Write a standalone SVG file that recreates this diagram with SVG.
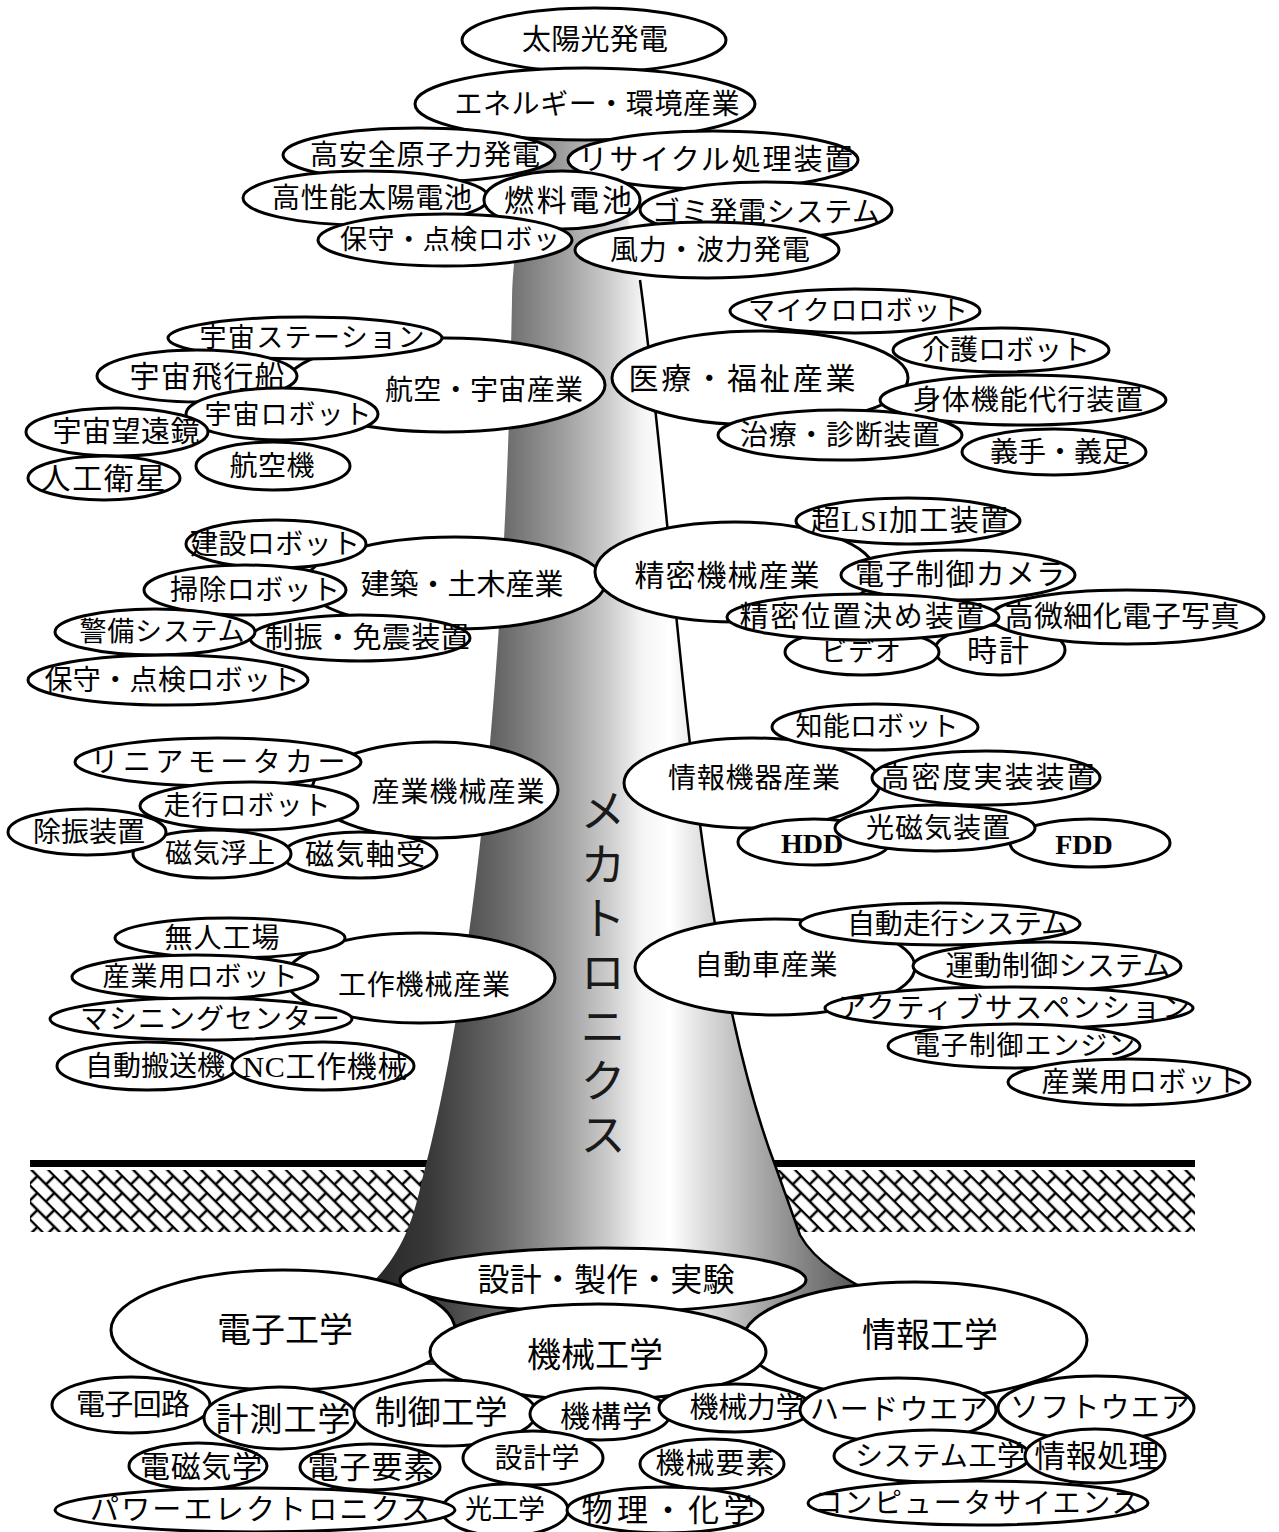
<svg xmlns="http://www.w3.org/2000/svg" width="1279" height="1532" viewBox="0 0 1279 1532">
<defs>
<style>
.n ellipse{fill:#fff;stroke:#000;stroke-width:3}
.n text{font-family:"Liberation Serif","Noto Sans CJK JP",serif;font-size:28px;text-anchor:middle;dominant-baseline:central;fill:#000}
.big text{font-size:34px}
.trunk-label{font-family:"Noto Sans CJK JP",sans-serif;font-size:46px;fill:#1a1a1a;writing-mode:vertical-rl;letter-spacing:8px}
</style>
<linearGradient id="trunkShade" gradientUnits="userSpaceOnUse" x1="340" y1="0" x2="890" y2="0">
<stop offset="0" stop-color="#1c1c1c"/>
<stop offset="0.16" stop-color="#383838"/>
<stop offset="0.29" stop-color="#676767"/>
<stop offset="0.4" stop-color="#9b9b9b"/>
<stop offset="0.49" stop-color="#cdcdcd"/>
<stop offset="0.55" stop-color="#f5f5f5"/>
<stop offset="0.6" stop-color="#ffffff"/>
<stop offset="0.66" stop-color="#dedede"/>
<stop offset="0.77" stop-color="#a6a6a6"/>
<stop offset="0.9" stop-color="#6a6a6a"/>
<stop offset="1" stop-color="#404040"/>
</linearGradient>
<pattern id="brickHatch" width="24" height="24" patternUnits="userSpaceOnUse" patternTransform="rotate(45)">
<path d="M0 1H24M0 13H24M6 1V13M18 13V25" stroke="#000" stroke-width="2.5" fill="none"/>
</pattern>
</defs>
<rect width="1279" height="1532" fill="#fff"/>

<!-- ground: surface line and hatched soil band -->
<g id="ground">
<rect x="30" y="1170" width="420" height="62" fill="url(#brickHatch)"/>
<rect x="750" y="1170" width="445" height="62" fill="url(#brickHatch)"/>
<rect x="30" y="1160" width="1165" height="7" fill="#000"/>
</g>

<!-- trunk -->
<g id="trunk">
<path d="M535,130 C522,200 512,260 512,300 C505,700 470,1000 422,1180 C410,1235 395,1270 340,1310 L340,1365 L895,1365 L895,1305 C845,1280 815,1262 800,1235 L775,1165 C690,940 678,560 640,280 C630,220 615,160 605,130 Z" fill="url(#trunkShade)"/>
<path d="M640,280 C678,560 690,940 775,1165 L800,1235 C815,1262 845,1280 895,1305" fill="none" stroke="#000" stroke-width="2.5"/>
<text class="trunk-label" x="603" y="787">メカトロニクス</text>
</g>

<!-- energy / environment -->
<g id="solar-power" class="n"><ellipse cx="594" cy="40" rx="132" ry="32"/><text x="595" y="40" style="font-size:29px" textLength="146">太陽光発電</text></g>
<g id="energy-industry" class="n"><ellipse cx="585" cy="104" rx="170" ry="36"/><text x="597" y="104" textLength="285">エネルギー・環境産業</text></g>
<g id="nuclear-power" class="n"><ellipse cx="419" cy="155" rx="136" ry="27"/><text x="425" y="155" textLength="230">高安全原子力発電</text></g>
<g id="recycling" class="n"><ellipse cx="713" cy="160" rx="145" ry="29"/><text x="716" y="160" style="font-size:29px" textLength="275">リサイクル処理装置</text></g>
<g id="solar-cell" class="n"><ellipse cx="366" cy="198" rx="123" ry="27"/><text x="372" y="198" textLength="200">高性能太陽電池</text></g>
<g id="fuel-cell" class="n"><ellipse cx="562" cy="200" rx="78" ry="29"/><text x="568" y="200" style="font-size:30px" textLength="128">燃料電池</text></g>
<g id="waste-power" class="n"><ellipse cx="766" cy="210" rx="126" ry="28"/><text x="766" y="212" textLength="228">ゴミ発電システム</text></g>
<g id="inspection-robot-1" class="n"><ellipse cx="445" cy="240" rx="127" ry="26"/><text x="450" y="240" style="font-size:27px" textLength="220">保守・点検ロボッ</text></g>
<g id="wind-wave" class="n"><ellipse cx="707" cy="250" rx="132" ry="28"/><text x="710" y="250" textLength="200">風力・波力発電</text></g>

<!-- aerospace -->
<g id="aerospace" class="n"><ellipse cx="445" cy="385" rx="160" ry="47"/><text x="484" y="390" textLength="198">航空・宇宙産業</text></g>
<g id="space-station" class="n"><ellipse cx="305" cy="338" rx="137" ry="21"/><text x="312" y="338" style="font-size:27px" textLength="225">宇宙ステーション</text></g>
<g id="spaceship" class="n"><ellipse cx="197" cy="376" rx="100" ry="26"/><text x="207" y="376" style="font-size:30px" textLength="155">宇宙飛行船</text></g>
<g id="space-robot" class="n"><ellipse cx="282" cy="414" rx="96" ry="26"/><text x="288" y="415" style="font-size:27px" textLength="167">宇宙ロボット</text></g>
<g id="space-telescope" class="n"><ellipse cx="117" cy="432" rx="91" ry="24"/><text x="126" y="432" style="font-size:29px" textLength="147">宇宙望遠鏡</text></g>
<g id="aircraft" class="n"><ellipse cx="273" cy="466" rx="77" ry="24"/><text x="272" y="466" textLength="85">航空機</text></g>
<g id="satellite" class="n"><ellipse cx="104" cy="478" rx="76" ry="22"/><text x="103" y="478" style="font-size:30px" textLength="125">人工衛星</text></g>

<!-- medical / welfare -->
<g id="medical" class="n"><ellipse cx="760" cy="378" rx="148" ry="47"/><text x="742" y="378" style="font-size:30px" textLength="227">医療・福祉産業</text></g>
<g id="micro-robot" class="n"><ellipse cx="855" cy="311" rx="125" ry="22"/><text x="858" y="311" style="font-size:27px" textLength="220">マイクロロボット</text></g>
<g id="care-robot" class="n"><ellipse cx="1001" cy="350" rx="108" ry="22"/><text x="1006" y="350" textLength="168">介護ロボット</text></g>
<g id="body-assist" class="n"><ellipse cx="1023" cy="400" rx="143" ry="25"/><text x="1028" y="400" textLength="230">身体機能代行装置</text></g>
<g id="therapy" class="n"><ellipse cx="840" cy="435" rx="122" ry="25"/><text x="840" y="435" textLength="200">治療・診断装置</text></g>
<g id="prosthesis" class="n"><ellipse cx="1054" cy="452" rx="92" ry="23"/><text x="1060" y="452" textLength="140">義手・義足</text></g>

<!-- construction -->
<g id="construction" class="n"><ellipse cx="455" cy="583" rx="150" ry="46"/><text x="462" y="585" style="font-size:29px" textLength="203">建築・土木産業</text></g>
<g id="building-robot" class="n"><ellipse cx="276" cy="544" rx="90" ry="24"/><text x="275" y="544" textLength="170">建設ロボット</text></g>
<g id="cleaning-robot" class="n"><ellipse cx="245" cy="590" rx="101" ry="25"/><text x="255" y="590" textLength="170">掃除ロボット</text></g>
<g id="seismic" class="n"><ellipse cx="360" cy="638" rx="110" ry="23"/><text x="367" y="638" style="font-size:29px" textLength="205">制振・免震装置</text></g>
<g id="security" class="n"><ellipse cx="155" cy="632" rx="100" ry="23"/><text x="162" y="632" style="font-size:27px" textLength="165">警備システム</text></g>
<g id="inspection-robot-2" class="n"><ellipse cx="168" cy="680" rx="140" ry="25"/><text x="172" y="680" textLength="255">保守・点検ロボット</text></g>

<!-- precision machinery -->
<g id="precision" class="n"><ellipse cx="735" cy="572" rx="140" ry="50"/><text x="727" y="575" style="font-size:30px" textLength="185">精密機械産業</text></g>
<g id="vlsi" class="n"><ellipse cx="908" cy="521" rx="112" ry="23"/><text x="910" y="521" style="font-size:29px" textLength="198">超LSI加工装置</text></g>
<g id="camera" class="n"><ellipse cx="958" cy="575" rx="117" ry="25"/><text x="960" y="575" style="font-size:29px" textLength="210">電子制御カメラ</text></g>
<g id="clock" class="n"><ellipse cx="1000" cy="650" rx="65" ry="25"/><text x="998" y="650" style="font-size:30px" textLength="62">時計</text></g>
<g id="video" class="n"><ellipse cx="862" cy="652" rx="77" ry="23"/><text x="861" y="652" style="font-size:26px" textLength="80">ビデオ</text></g>
<g id="photo" class="n"><ellipse cx="1127" cy="617" rx="137" ry="27"/><text x="1122" y="617" style="font-size:29px" textLength="235">高微細化電子写真</text></g>
<g id="positioning" class="n"><ellipse cx="863" cy="617" rx="136" ry="23"/><text x="862" y="617" style="font-size:29px" textLength="245">精密位置決め装置</text></g>

<!-- industrial machinery -->
<g id="industrial" class="n"><ellipse cx="435" cy="790" rx="123" ry="48"/><text x="458" y="792" textLength="173">産業機械産業</text></g>
<g id="linear-motor" class="n"><ellipse cx="218" cy="762" rx="143" ry="24"/><text x="218" y="762" textLength="255">リニアモータカー</text></g>
<g id="walking-robot" class="n"><ellipse cx="249" cy="806" rx="109" ry="24"/><text x="247" y="806" style="font-size:27px" textLength="167">走行ロボット</text></g>
<g id="magnetic-bearing" class="n"><ellipse cx="360" cy="855" rx="77" ry="23"/><text x="365" y="855" style="font-size:29px" textLength="120">磁気軸受</text></g>
<g id="maglev" class="n"><ellipse cx="212" cy="854" rx="79" ry="24"/><text x="220" y="854" style="font-size:27px" textLength="110">磁気浮上</text></g>
<g id="vibration-isolator" class="n"><ellipse cx="87" cy="832" rx="79" ry="23"/><text x="89" y="832" textLength="112">除振装置</text></g>

<!-- information equipment -->
<g id="info-equipment" class="n"><ellipse cx="752" cy="783" rx="128" ry="45"/><text x="754" y="778" textLength="172">情報機器産業</text></g>
<g id="smart-robot" class="n"><ellipse cx="875" cy="727" rx="103" ry="23"/><text x="877" y="727" style="font-size:27px" textLength="163">知能ロボット</text></g>
<g id="mounting" class="n"><ellipse cx="986" cy="778" rx="114" ry="27"/><text x="988" y="778" style="font-size:29px" textLength="215">高密度実装装置</text></g>
<g id="hdd" class="n"><ellipse cx="814" cy="842" rx="76" ry="23"/><text x="812" y="843" style="font-weight:700">HDD</text></g>
<g id="fdd" class="n"><ellipse cx="1090" cy="843" rx="80" ry="24"/><text x="1084" y="844" style="font-weight:700">FDD</text></g>
<g id="magneto-optical" class="n"><ellipse cx="935" cy="828" rx="100" ry="23"/><text x="938" y="828" textLength="144">光磁気装置</text></g>

<!-- machine tools -->
<g id="machine-tools" class="n"><ellipse cx="420" cy="978" rx="135" ry="45"/><text x="424" y="985" textLength="172">工作機械産業</text></g>
<g id="unmanned-factory" class="n"><ellipse cx="230" cy="938" rx="115" ry="20"/><text x="222" y="938" textLength="115">無人工場</text></g>
<g id="industrial-robot-1" class="n"><ellipse cx="195" cy="977" rx="123" ry="22"/><text x="200" y="977" style="font-size:27px" textLength="195">産業用ロボット</text></g>
<g id="machining-center" class="n"><ellipse cx="201" cy="1019" rx="151" ry="21"/><text x="210" y="1019" textLength="260">マシニングセンター</text></g>
<g id="agv" class="n"><ellipse cx="147" cy="1066" rx="90" ry="24"/><text x="155" y="1066" textLength="140">自動搬送機</text></g>
<g id="nc-machine" class="n"><ellipse cx="323" cy="1066" rx="91" ry="24"/><text x="325" y="1066" style="font-size:30px" textLength="165">NC工作機械</text></g>

<!-- automobile -->
<g id="automobile" class="n"><ellipse cx="775" cy="967" rx="140" ry="48"/><text x="766" y="965" textLength="143">自動車産業</text></g>
<g id="auto-driving" class="n"><ellipse cx="940" cy="924" rx="140" ry="21"/><text x="958" y="924" textLength="222">自動走行システム</text></g>
<g id="motion-control" class="n"><ellipse cx="1047" cy="966" rx="134" ry="24"/><text x="1058" y="966" textLength="225">運動制御システム</text></g>
<g id="active-suspension" class="n"><ellipse cx="1009" cy="1008" rx="184" ry="21"/><text x="1014" y="1008" textLength="352">アクティブサスペンション</text></g>
<g id="engine-control" class="n"><ellipse cx="1014" cy="1046" rx="126" ry="22"/><text x="1024" y="1046" style="font-size:27px" textLength="222">電子制御エンジン</text></g>
<g id="industrial-robot-2" class="n"><ellipse cx="1129" cy="1082" rx="121" ry="23"/><text x="1143" y="1082" textLength="203">産業用ロボット</text></g>

<!-- engineering roots -->
<g id="electronics" class="n big"><ellipse cx="283" cy="1330" rx="172" ry="60"/><text x="285" y="1330">電子工学</text></g>
<g id="design-build-test" class="n"><ellipse cx="603" cy="1280" rx="203" ry="32"/><text x="606" y="1280" style="font-size:32px" textLength="257">設計・製作・実験</text></g>
<g id="information-eng" class="n big"><ellipse cx="915" cy="1340" rx="172" ry="58"/><text x="930" y="1335">情報工学</text></g>
<g id="mechanical-eng" class="n big"><ellipse cx="598" cy="1352" rx="168" ry="48"/><text x="595" y="1355">機械工学</text></g>
<g id="circuits" class="n"><ellipse cx="131" cy="1405" rx="79" ry="28"/><text x="133" y="1405" style="font-size:29px" textLength="114">電子回路</text></g>
<g id="measurement" class="n"><ellipse cx="280" cy="1418" rx="76" ry="31"/><text x="283" y="1420" style="font-size:33px" textLength="135">計測工学</text></g>
<g id="control" class="n"><ellipse cx="445" cy="1413" rx="91" ry="33"/><text x="441" y="1413" style="font-size:33px" textLength="133">制御工学</text></g>
<g id="mechanism" class="n"><ellipse cx="600" cy="1414" rx="70" ry="26"/><text x="606" y="1416" style="font-size:30px" textLength="92">機構学</text></g>
<g id="dynamics" class="n"><ellipse cx="735" cy="1408" rx="76" ry="24"/><text x="747" y="1408" style="font-size:29px" textLength="115">機械力学</text></g>
<g id="hardware" class="n"><ellipse cx="898" cy="1410" rx="98" ry="32"/><text x="899" y="1410" style="font-size:29px" textLength="178">ハードウエア</text></g>
<g id="software" class="n"><ellipse cx="1096" cy="1408" rx="98" ry="32"/><text x="1100" y="1408" style="font-size:29px" textLength="180">ソフトウエア</text></g>
<g id="electromagnetics" class="n"><ellipse cx="198" cy="1466" rx="69" ry="23"/><text x="201" y="1466" style="font-size:30px" textLength="122">電磁気学</text></g>
<g id="components" class="n"><ellipse cx="370" cy="1467" rx="70" ry="23"/><text x="371" y="1467" style="font-size:31px" textLength="127">電子要素</text></g>
<g id="design" class="n"><ellipse cx="533" cy="1458" rx="70" ry="27"/><text x="537" y="1458" textLength="85">設計学</text></g>
<g id="machine-elements" class="n"><ellipse cx="712" cy="1464" rx="72" ry="25"/><text x="715" y="1464" style="font-size:29px" textLength="119">機械要素</text></g>
<g id="systems-eng" class="n"><ellipse cx="932" cy="1456" rx="98" ry="26"/><text x="940" y="1456" textLength="170">システム工学</text></g>
<g id="info-processing" class="n"><ellipse cx="1095" cy="1456" rx="70" ry="27"/><text x="1097" y="1456" style="font-size:31px" textLength="125">情報処理</text></g>
<g id="optics" class="n"><ellipse cx="505" cy="1510" rx="63" ry="26"/><text x="505" y="1510" style="font-size:27px" textLength="80">光工学</text></g>
<g id="power-electronics" class="n"><ellipse cx="255" cy="1510" rx="200" ry="22"/><text x="260" y="1510" style="font-size:29px" textLength="340">パワーエレクトロニクス</text></g>
<g id="physics-chemistry" class="n"><ellipse cx="665" cy="1510" rx="98" ry="23"/><text x="668" y="1510" style="font-size:31px" textLength="173">物理・化学</text></g>
<g id="computer-science" class="n"><ellipse cx="978" cy="1503" rx="170" ry="22"/><text x="977" y="1503" textLength="325">コンピュータサイエンス</text></g>
</svg>
